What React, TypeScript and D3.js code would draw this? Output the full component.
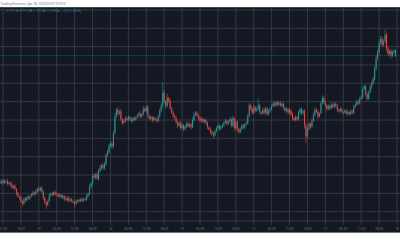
import React from 'react';
import * as d3 from 'd3';

const W = 400;
const H = 250;

// 30-minute candles starting Apr 12 2020 11:00 (chart time)
const startTime = Date.UTC(2020, 3, 12, 11, 0);
const intervalMinutes = 30;
const firstOpen = 6830;

const closes = [
  6832, 6828, 6835, 6830, 6833, 6826, 6829, 6824, 6816, 6820,
  6812, 6800, 6792, 6788, 6778, 6772, 6785, 6781, 6790, 6786,
  6792, 6797, 6802, 6798, 6805, 6812, 6808, 6815, 6806, 6788,
  6775, 6768, 6779, 6795, 6800, 6796, 6803, 6799, 6797, 6792,
  6796, 6789, 6793, 6786, 6782, 6788, 6780, 6784, 6779, 6776,
  6772, 6778, 6782, 6779, 6784, 6780, 6785, 6783, 6793, 6799,
  6818, 6828, 6848, 6843, 6852, 6840, 6862, 6870, 6877, 6868,
  6880, 6905, 6912, 6930, 6936, 6928, 6965, 7010, 7028, 7018,
  7024, 7002, 6992, 6998, 7004, 7000, 7008, 7003, 6997, 7005,
  7001, 7007, 7012, 7018, 7010, 7016, 7030, 7024, 7035, 7012,
  7004, 7008, 6999, 7005, 7001, 6997, 7010, 7025, 7040, 7075,
  7050, 7038, 7060, 7052, 7032, 7020, 7012, 7005, 6995, 6985,
  6992, 6978, 6986, 6975, 6982, 6990, 6983, 6988, 6980, 7000,
  7015, 7020, 7012, 7005, 6998, 7003, 6995, 7000, 6992, 6980,
  6975, 6968, 6962, 6958, 6970, 6978, 6984, 6976, 6982, 6986,
  6992, 6998, 6990, 6996, 7002, 6985, 7005, 6978, 6995, 6975,
  6968, 6975, 6985, 6980, 6988, 6992, 7010, 7040, 7030, 7020,
  7035, 7025, 7030, 7040, 7022, 7018, 7028, 7020, 7032, 7016,
  7025, 7030, 7038, 7045, 7040, 7048, 7042, 7046, 7039, 7044,
  7032, 7025, 7030, 7020, 7026, 7015, 7005, 7000, 7008, 7002,
  7020, 7030, 7018, 7025, 6985, 6955, 6975, 6990, 6982, 6998,
  7015, 7028, 7022, 7010, 7018, 7045, 7060, 7048, 7040, 7030,
  7038, 7032, 7042, 7036, 7044, 7038, 7028, 7024, 7030, 7022,
  7020, 7025, 7018, 7022, 7016, 7024, 7020, 7035, 7042, 7050,
  7046, 7058, 7062, 7085, 7092, 7070, 7058, 7075, 7090, 7100,
  7112, 7140, 7168, 7185, 7210, 7222, 7205, 7215, 7232, 7195,
  7180, 7188, 7175, 7185, 7190, 7176,
];

const upperWick = [
  4, 6, 3, 5, 2, 7, 4, 3, 6, 2,
  5, 3, 4, 2, 6, 3, 4, 5, 3, 6,
  2, 4, 5, 3, 6, 4, 7, 3, 5, 2,
  4, 3, 5, 6, 2, 4, 3, 5, 4, 3,
  5, 2, 4, 3, 6, 3, 5, 2, 4, 3,
  3, 5, 2, 4, 3, 6, 2, 4, 5, 3,
  6, 4, 5, 7, 3, 6, 4, 8, 3, 5,
  6, 4, 7, 5, 8, 3, 6, 9, 5, 7,
  4, 6, 3, 5, 7, 4, 6, 3, 5, 4,
  6, 3, 5, 4, 7, 3, 8, 4, 6, 5,
  3, 5, 4, 6, 3, 4, 5, 7, 6, 29,
  8, 5, 12, 4, 6, 3, 5, 4, 6, 3,
  5, 4, 6, 3, 5, 4, 6, 3, 5, 7,
  6, 4, 5, 3, 6, 4, 5, 3, 4, 5,
  3, 5, 4, 6, 3, 5, 4, 6, 3, 4,
  5, 6, 3, 5, 7, 4, 8, 3, 6, 4,
  3, 5, 4, 6, 3, 5, 7, 6, 5, 4,
  6, 3, 5, 20, 4, 3, 6, 4, 5, 3,
  4, 6, 5, 4, 6, 3, 5, 4, 6, 3,
  5, 4, 6, 3, 5, 4, 6, 3, 5, 4,
  6, 4, 5, 3, 5, 6, 4, 5, 3, 6,
  5, 6, 4, 5, 3, 6, 8, 5, 4, 3,
  5, 4, 6, 3, 5, 4, 6, 3, 5, 4,
  3, 5, 4, 6, 3, 5, 4, 6, 5, 7,
  4, 6, 5, 6, 5, 4, 6, 5, 6, 7,
  6, 8, 7, 6, 8, 8, 6, 5, 14, 6,
  5, 4, 6, 5, 4, 3,
];

const lowerWick = [
  5, 3, 6, 4, 3, 5, 4, 6, 3, 5,
  4, 6, 3, 5, 4, 8, 3, 5, 4, 3,
  5, 3, 4, 6, 3, 5, 3, 4, 5, 6,
  5, 12, 4, 3, 5, 4, 3, 6, 4, 5,
  3, 5, 4, 6, 3, 5, 4, 3, 5, 4,
  10, 3, 5, 4, 3, 5, 4, 3, 4, 5,
  4, 5, 6, 4, 5, 3, 5, 4, 6, 5,
  4, 5, 6, 4, 5, 7, 4, 6, 5, 6,
  5, 4, 6, 3, 5, 4, 3, 6, 5, 4,
  3, 5, 4, 3, 6, 4, 5, 3, 4, 6,
  5, 3, 6, 4, 3, 5, 4, 3, 5, 6,
  5, 7, 4, 6, 5, 3, 6, 4, 5, 6,
  4, 5, 3, 6, 4, 3, 5, 4, 6, 3,
  4, 5, 3, 6, 4, 5, 3, 4, 6, 5,
  4, 6, 5, 8, 3, 5, 4, 6, 3, 4,
  5, 3, 6, 4, 3, 6, 4, 7, 5, 8,
  7, 4, 3, 5, 4, 3, 5, 4, 6, 5,
  4, 5, 3, 4, 6, 5, 3, 6, 4, 5,
  3, 4, 5, 3, 4, 3, 5, 4, 3, 5,
  4, 6, 3, 5, 4, 5, 6, 4, 3, 5,
  4, 3, 5, 4, 8, 18, 5, 4, 6, 3,
  4, 5, 3, 6, 4, 3, 5, 4, 5, 6,
  3, 5, 4, 3, 5, 4, 6, 5, 3, 4,
  5, 3, 4, 6, 4, 3, 5, 4, 3, 4,
  5, 4, 3, 5, 4, 6, 5, 4, 3, 5,
  4, 5, 6, 5, 7, 6, 5, 6, 5, 8,
  6, 5, 7, 4, 5, 4,
];

const gridPrices = [6750, 6800, 6850, 6900, 6950, 7000, 7050, 7100, 7150, 7200, 7250, 7300];

const headerText = 'TradingView.com, Apr 18, 2020 09:07 UTC+3';
const ohlcLabels = ['O', 'H', 'L', 'C'];
const ohlcValues = ['7171.35', '7171.88', '7167.40', '7170.66'];
const changeText = '\u22120.77 (\u22120.01%)';

const UP = '#26a69a';
const DOWN = '#ef5350';
const BG = '#141823';
const GRID = '#383c49';

export default function App() {
  const panelTop = 7;
  const plotBottom = 221;
  const axisBottom = 232.5;

  const x = d3
    .scaleUtc()
    .domain([new Date(Date.UTC(2020, 3, 12, 12)), new Date(Date.UTC(2020, 3, 18, 0))])
    .range([3, 397]);
  const y = d3.scaleLinear().domain([6750, 7300]).range([211.7, 10]);

  const candles = closes.map((c, i) => {
    const o = i === 0 ? firstOpen : closes[i - 1];
    const t = new Date(startTime + i * intervalMinutes * 60000);
    return {
      t,
      o,
      c,
      h: Math.max(o, c) + upperWick[i],
      l: Math.min(o, c) - lowerWick[i],
    };
  });

  const ticks = x.ticks(d3.utcHour.every(6) as any);
  const fmt = (d: Date) =>
    d.getUTCHours() === 0 ? String(d.getUTCDate()) : d3.utcFormat('%H:%M')(d);

  const last = closes[closes.length - 1];
  const font = 'Roboto, "DejaVu Sans", sans-serif';

  return (
    <svg
      width={W}
      height={H}
      style={{ position: 'fixed', left: 0, top: 0, background: '#fff' }}
    >
      <defs>
        <clipPath id="plot">
          <rect x={0} y={panelTop} width={W} height={plotBottom - panelTop} />
        </clipPath>
      </defs>
      <rect x={0} y={0} width={W} height={H} fill="#ffffff" />
      <text x={0.5} y={4.8} fontSize={3.3} fill="#7a7a7a" fontFamily={font}>
        {headerText}
      </text>
      <rect x={0} y={panelTop} width={W} height={axisBottom - panelTop} fill={BG} />
      <line x1={0} x2={W} y1={panelTop + 0.5} y2={panelTop + 0.5} stroke="#434756" strokeWidth={1} />

      {gridPrices.map((p) => (
        <line key={p} x1={0} x2={W} y1={y(p)} y2={y(p)} stroke={GRID} strokeWidth={0.9} />
      ))}
      {ticks.map((t) => (
        <line
          key={+t}
          x1={x(t)}
          x2={x(t)}
          y1={panelTop}
          y2={plotBottom + 4}
          stroke={GRID}
          strokeWidth={0.9}
        />
      ))}
      <line x1={0} x2={W} y1={plotBottom} y2={plotBottom} stroke="#3c404d" strokeWidth={0.9} />

      <g clipPath="url(#plot)">
        {candles.map((d, i) => {
          const cx = x(d.t);
          const col = d.c >= d.o ? UP : DOWN;
          const top = y(Math.max(d.o, d.c));
          const hgt = Math.max(0.7, Math.abs(y(d.o) - y(d.c)));
          return (
            <g key={i} opacity={0.9}>
              <line x1={cx} x2={cx} y1={y(d.h)} y2={y(d.l)} stroke={col} strokeWidth={0.6} />
              <rect x={cx - 0.5} y={top} width={1} height={hgt} fill={col} />
            </g>
          );
        })}
        <line
          x1={0}
          x2={W}
          y1={y(last)}
          y2={y(last)}
          stroke={UP}
          strokeOpacity={0.7}
          strokeWidth={0.6}
          strokeDasharray="1 1"
        />
      </g>

      <g fontFamily={font} fontSize={2.7}>
        {ohlcValues.map((v, i) => (
          <g key={v}>
            <text x={6.5 + i * 13.6} y={12} fill="#6f7380">
              {ohlcLabels[i]}
            </text>
            <text x={9 + i * 13.6} y={12} fill={UP}>
              {v}
            </text>
          </g>
        ))}
        <text x={63} y={12} fill={UP}>
          {changeText}
        </text>
      </g>

      {ticks.map((t) => (
        <text
          key={'l' + +t}
          x={x(t)}
          y={230}
          fontSize={3.3}
          textAnchor="middle"
          fill="#6c707c"
          fontFamily={font}
        >
          {fmt(t)}
        </text>
      ))}
      <line x1={0} x2={W} y1={axisBottom} y2={axisBottom} stroke="#6b6f7c" strokeWidth={0.8} />
    </svg>
  );
}
